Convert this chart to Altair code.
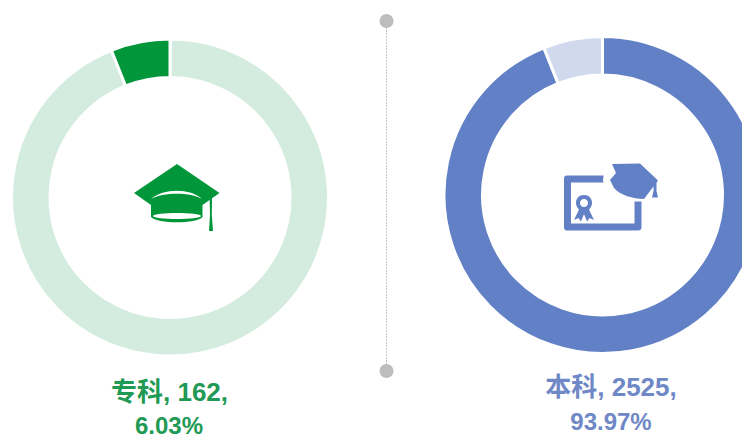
import altair as alt

names = ["专科", "本科"]
counts = [162, 2525]
shares = ["6.03%", "93.97%"]
left_segments = ["专科其他", "专科"]
left_values = [2525, 162]
right_segments = ["本科", "本科其他"]
right_values = [2525, 162]
seg_domain = ["专科其他", "专科", "本科", "本科其他"]
seg_colors = ["#d4ecdf", "#009639", "#6280c6", "#d0d9ee"]
GREEN_TEXT = "#1f9a55"
BLUE_TEXT = "#6f88c6"
FONT = "Liberation Sans, Noto Sans CJK SC, sans-serif"

OFF = 8
def px(v):
    return alt.value(v - OFF)

def ring(segs, vals, cx, cy):
    rows = [{"seg": s, "value": v, "idx": i} for i, (s, v) in enumerate(zip(segs, vals))]
    return alt.Chart(alt.Data(values=rows)).mark_arc(
        innerRadius=120, outerRadius=158.5, stroke="white", strokeWidth=3
    ).encode(
        theta=alt.Theta("value:Q", stack=True),
        order=alt.Order("idx:Q"),
        color=alt.Color("seg:N", scale=alt.Scale(domain=seg_domain, range=seg_colors), legend=None),
        x=px(cx), y=px(cy),
    )

def text(s, x, y, color, size=26):
    return alt.Chart(alt.Data(values=[{"t": s}])).mark_text(
        font=FONT, fontSize=size, fontWeight="bold", color=color, align="center", baseline="middle"
    ).encode(text="t:N", x=px(x), y=px(y))

def glyph(path, x, y, color):
    # size 4 makes the path's units equal to pixels
    return alt.Chart(alt.Data(values=[{"k": 1}])).mark_point(
        shape=path, size=4, filled=True, fill=color, stroke=None, opacity=1
    ).encode(x=px(x), y=px(y))

one = alt.Data(values=[{"k": 1}])

divider = alt.Chart(one).mark_rule(color="#c4c4c4", strokeWidth=1, strokeDash=[2, 1]).encode(
    x=px(386.5), y=px(21), y2=px(371))
dot_top = alt.Chart(one).mark_point(shape="circle", size=196, filled=True, color="#bdbdbd", opacity=1).encode(x=px(386.5), y=px(21))
dot_bot = alt.Chart(one).mark_point(shape="circle", size=196, filled=True, color="#bdbdbd", opacity=1).encode(x=px(386.5), y=px(371))

# graduation cap, origin (177,197)
cap_green = "#009639"
cap_board = "M0,-33 L42.5,-4 L25.5,8 L25.5,20 C20,27 -20,27 -26,20 L-26,8 L-43,-4 Z"
cap_arc = "M-26,2 C-14,-9 14,-9 25,2 C14,-5 -14,-5 -26,2 Z"
cap_ellipse = "M-24,19 C-24,15 24,15 24,19 C24,23 -24,23 -24,19 Z"
cap_tassel = "M32.6,0 L35,-1 L34.8,18 L36,34 L32,34 L33,18 Z"

# diploma, origin (603,203)
blue = "#6280c6"
frame = ("M-37,-27.5 L5,-27.5 L4,-20.5 L-32,-20.5 L-32,20.5 L31.5,20.5 L31.5,-1.5 L38.5,-1.5 L38.5,24 "
         "Q38.5,27.5 35,27.5 L-36,27.5 Q-39,27.5 -39,24 L-39,-24.5 Q-39,-27.5 -36,-27.5 Z")
seal = ("M-19,-8 C-14,-8 -11,-4.5 -11,0 C-11,3 -12.5,5 -14,6.5 L-9,17 L-13.5,15 L-16,18.5 L-19,11 "
        "L-22,18.5 L-24.5,15 L-29,17 L-24,6.5 C-25.5,5 -27,3 -27,0 C-27,-4.5 -24,-8 -19,-8 Z")
seal_hole = "M-19,-4 C-16.5,-4 -15,-2 -15,0 C-15,2 -16.5,4 -19,4 C-21.5,4 -23,2 -23,0 C-23,-2 -21.5,-4 -19,-4 Z"
dip_cap = "M9,-39 L37,-39.5 L55,-22.5 L41,-4 C30,-4 17,-8 11,-15 L7,-23 L13,-30 Z"
dip_white = "M2,-41 L10,-41 L16,-30 L9,-23 L13,-15 L5,-12 L0,-22 Z"
dip_tassel = "M50.5,-23 L53.5,-23 L53.5,-12 L55,-5.5 L49,-5.5 L50.5,-12 Z"

chart = alt.layer(
    ring(left_segments, left_values, 170, 197.5),
    ring(right_segments, right_values, 602.5, 195),
    divider, dot_top, dot_bot,
    glyph(cap_board, 177, 197, cap_green),
    glyph(cap_arc, 177, 197, "white"),
    glyph(cap_ellipse, 177, 197, "white"),
    glyph(cap_tassel, 177, 197, cap_green),
    glyph(frame, 603, 203, blue),
    glyph(seal, 603, 203, blue),
    glyph(seal_hole, 603, 203, "white"),
    glyph(dip_white, 603, 203, "white"),
    glyph(dip_cap, 603, 203, blue),
    glyph(dip_tassel, 603, 203, blue),
    text(f"{names[0]}, {counts[0]},", 169.5, 393, GREEN_TEXT),
    text(shares[0], 169, 426.5, GREEN_TEXT, 24),
    text(f"{names[1]}, {counts[1]},", 611, 388, BLUE_TEXT),
    text(shares[1], 611, 423, BLUE_TEXT, 24),
).properties(
    width=734, height=430, padding=0,
    autosize=alt.AutoSizeParams(type="none"),
).configure_view(stroke=None)

chart.save("out.html", embed_options={"renderer": "svg", "actions": False})
